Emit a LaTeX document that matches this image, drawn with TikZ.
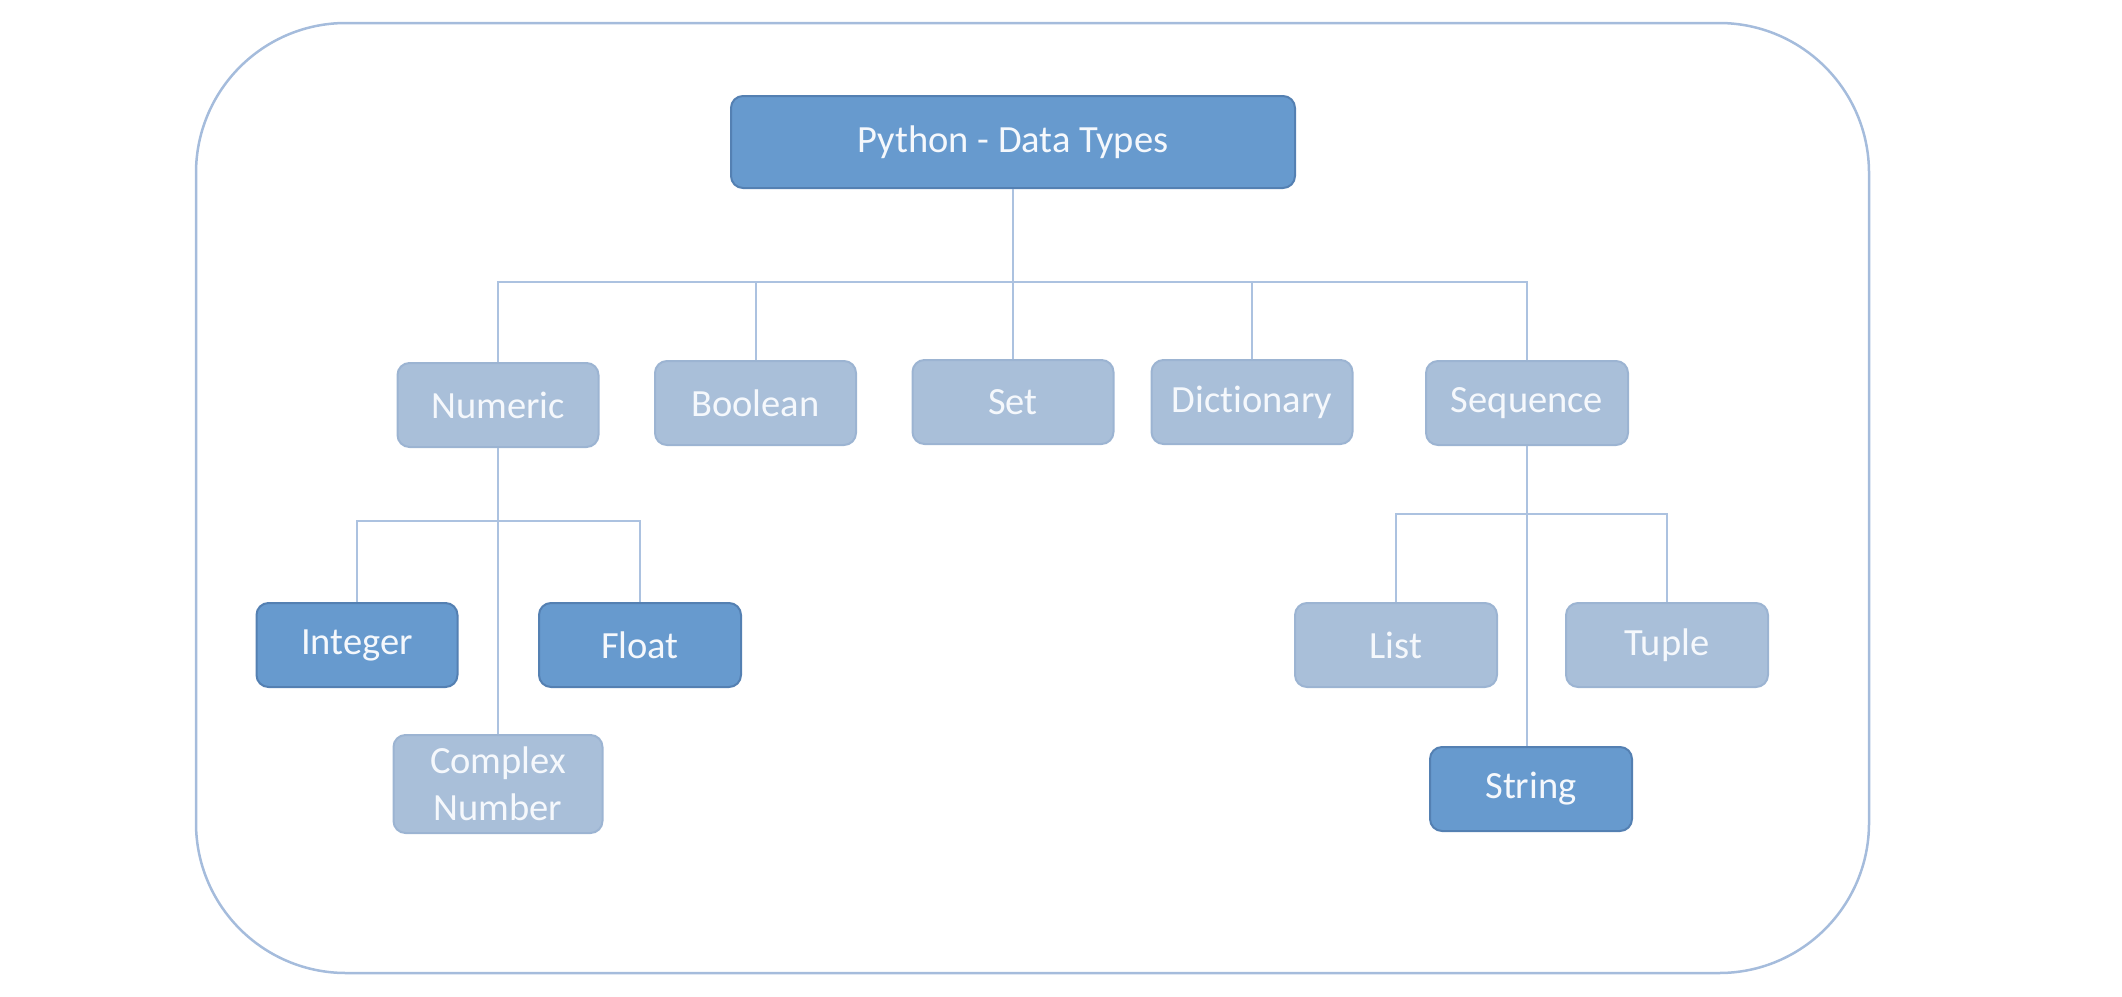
\documentclass[tikz,border=0pt]{standalone}
\usepackage{fontspec}
\setmainfont[Ligatures={NoCommon}]{Carlito}
\definecolor{darkfill}{RGB}{103,154,206}
\definecolor{darkline}{RGB}{84,128,178}
\definecolor{lightfill}{RGB}{169,191,217}
\definecolor{lightline}{RGB}{156,180,210}
\definecolor{connc}{RGB}{172,194,224}
\definecolor{framec}{RGB}{165,188,220}
\definecolor{txtc}{RGB}{245,248,252}
\begin{document}
\begin{tikzpicture}[x=1pt,y=-1pt,
  box/.style={rounded corners=12pt, line width=2pt, inner sep=0pt, align=center,
    text=txtc, font=\fontsize{38.5}{47}\selectfont, minimum width=201pt, minimum height=84pt},
  darkbox/.style={box, fill=darkfill, draw=darkline},
  lightbox/.style={box, fill=lightfill, draw=lightline},
  conn/.style={draw=connc, line width=2pt}]
\useasboundingbox (0,0) rectangle (2122,996);
\draw[framec, line width=2.5pt, rounded corners=150pt] (196,23) rectangle (1869,973);

\node[darkbox, minimum width=564pt, minimum height=92pt] (root) at (1013,142) {Python - Data Types};

\node[lightbox] (numeric) at (498,405) {Numeric};
\node[lightbox] (boolean) at (755.5,403) {Boolean};
\node[lightbox] (set) at (1013,402) {Set};
\node[lightbox] (dict) at (1252,402) {Dictionary};
\node[lightbox, minimum width=202pt] (seq) at (1527,403) {Sequence};

\node[darkbox] (integer) at (357,645) {Integer};
\node[darkbox, minimum width=202pt] (float) at (640,645) {Float};
\node[lightbox, minimum width=209pt, minimum height=98pt] (complex) at (498,784) {Complex\\Number};

\node[lightbox, minimum width=202pt] (list) at (1396,645) {List};
\node[lightbox, minimum width=202pt] (tuple) at (1667,645) {Tuple};
\node[darkbox, minimum width=202pt] (string) at (1531,789) {String};

\coordinate (b1) at (1013,282);
\coordinate (b2) at (498,521);
\coordinate (b3) at (1527,514);

\draw[conn] (root.south) -- (b1);
\draw[conn] (numeric.north) |- (b1);
\draw[conn] (boolean.north) |- (b1);
\draw[conn] (set.north) |- (b1);
\draw[conn] (dict.north) |- (b1);
\draw[conn] (seq.north) |- (b1);

\draw[conn] (numeric.south) -- (complex.north);
\draw[conn] (integer.north) |- (b2);
\draw[conn] (float.north) |- (b2);

\draw[conn] (seq.south) -- (seq.south |- string.north);
\draw[conn] (list.north) |- (b3);
\draw[conn] (tuple.north) |- (b3);
\end{tikzpicture}
\end{document}
